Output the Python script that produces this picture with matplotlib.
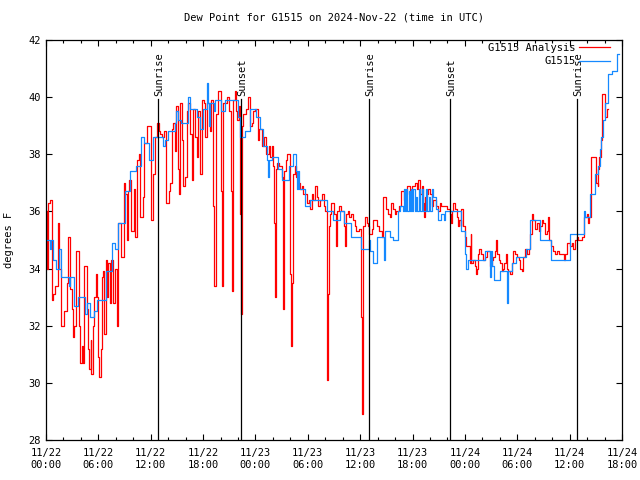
import numpy as np
import matplotlib
matplotlib.use("Agg")
import matplotlib.pyplot as plt
from matplotlib.ticker import MultipleLocator

plt.rcParams['font.family'] = ['DejaVu Sans Mono']

# hours since 11/22 00:00 UTC, dew point in F
red_t = [0.00, 0.10, 0.25, 0.45, 0.65, 0.80, 1.00, 1.35, 1.50, 1.70, 2.05, 2.35, 2.55, 2.75, 2.95,
         3.10, 3.25, 3.45, 3.75, 3.95, 4.10, 4.25, 4.40, 4.65, 4.85, 4.97, 5.10, 5.20, 5.35, 5.50,
         5.70, 5.85, 5.95, 6.10, 6.25, 6.40, 6.55, 6.70, 6.90, 7.00, 7.15, 7.30, 7.50, 7.70, 7.85,
         8.15, 8.30, 8.65, 8.90, 9.10, 9.25, 9.40, 9.55, 9.70, 10.05, 10.20, 10.40, 10.65, 10.80, 11.15,
         11.25, 11.55, 12.00, 12.30, 12.50, 12.70, 12.90, 13.05, 13.30, 13.50, 13.80, 14.10, 14.25, 14.40, 14.60,
         14.80, 14.95, 15.10, 15.28, 15.40, 15.55, 15.66, 15.90, 16.10, 16.30, 16.50, 16.70, 16.90, 17.10, 17.30,
         17.45, 17.65, 17.85, 18.10, 18.25, 18.40, 18.75, 18.95, 19.15, 19.28, 19.45, 19.75, 20.10, 20.22, 20.32,
         20.70, 21.00, 21.18, 21.28, 21.38, 21.65, 21.80, 21.90, 22.10, 22.22, 22.30, 22.42, 22.55, 22.95, 23.20,
         23.40, 23.55, 23.70, 23.90, 24.30, 24.45, 24.75, 25.00, 25.25, 25.50, 25.70, 25.85, 26.05, 26.13, 26.20,
         26.30, 26.50, 26.65, 27.00, 27.12, 27.20, 27.30, 27.50, 27.65, 27.97, 28.04, 28.20, 28.35, 28.50, 28.70,
         28.90, 29.10, 29.30, 29.50, 29.90, 30.10, 30.25, 30.45, 30.65, 30.80, 31.00, 31.20, 31.40, 31.60, 31.80,
         32.00, 32.15, 32.24, 32.30, 32.40, 32.55, 32.65, 32.90, 33.05, 33.20, 33.35, 33.60, 33.80, 34.15, 34.27,
         34.40, 34.55, 34.75, 34.95, 35.15, 35.35, 35.55, 35.90, 36.05, 36.15, 36.22, 36.37, 36.55, 36.75, 36.95,
         37.05, 37.40, 37.50, 37.90, 38.10, 38.45, 38.60, 38.66, 39.00, 39.15, 39.40, 39.55, 39.75, 39.95, 40.10,
         40.50, 40.70, 41.00, 41.25, 41.40, 41.70, 41.95, 42.30, 42.50, 42.66, 42.85, 43.05, 43.25, 43.35, 43.45,
         43.60, 43.80, 44.00, 44.20, 44.40, 44.70, 44.95, 45.10, 45.30, 45.90, 46.30, 46.40, 46.55, 46.65, 46.85,
         47.05, 47.25, 47.35, 47.50, 47.60, 47.80, 48.00, 48.10, 48.60, 48.66, 48.75, 48.97, 49.15, 49.30, 49.40,
         49.50, 49.60, 49.90, 50.10, 50.30, 50.50, 50.85, 51.05, 51.25, 51.45, 51.56, 51.70, 51.90, 52.00, 52.20,
         52.40, 52.50, 52.67, 52.80, 52.95, 53.15, 53.35, 53.55, 53.75, 53.95, 54.15, 54.35, 54.50, 54.70, 54.90,
         55.10, 55.30, 55.50, 55.65, 55.85, 56.05, 56.25, 56.45, 56.60, 56.80, 57.00, 57.15, 57.35, 57.55, 57.65,
         57.90, 58.10, 58.30, 58.60, 58.80, 59.10, 59.30, 59.45, 59.65, 60.05, 60.25, 60.40, 60.60, 60.80, 61.00,
         61.40, 61.60, 61.95, 62.10, 62.25, 62.40, 62.50, 63.05, 63.20, 63.30, 63.40, 63.55, 63.67, 64.05, 64.30,
         64.40]
red_v = [36.0, 34.0, 36.3, 36.4, 32.9, 33.1, 33.4, 35.6, 34.0, 32.0, 32.5, 33.5, 35.1, 33.3, 32.6,
         31.6, 32.0, 34.6, 32.0, 30.7, 31.3, 30.7, 34.1, 32.6, 31.2, 30.5, 31.5, 30.3, 32.0, 33.0,
         33.8, 33.0, 30.9, 30.2, 31.2, 33.7, 33.9, 31.7, 34.3, 33.0, 34.2, 32.8, 34.3, 32.8, 34.0,
         32.0, 35.6, 34.4, 37.0, 36.6, 35.0, 36.7, 37.1, 35.3, 36.8, 35.1, 37.8, 38.0, 35.8, 36.5,
         38.4, 39.0, 35.7, 37.3, 38.6, 39.1, 38.8, 38.7, 38.6, 38.8, 36.3, 36.7, 37.0, 38.9, 39.1,
         38.1, 39.7, 37.5, 36.6, 39.8, 38.5, 36.9, 37.2, 39.5, 39.8, 38.7, 37.1, 39.6, 38.6, 37.9,
         39.5, 37.3, 39.9, 39.8, 38.6, 39.8, 38.8, 39.9, 36.2, 33.4, 39.4, 40.2, 36.7, 33.4, 39.8,
         40.0, 39.5, 36.7, 33.2, 39.9, 40.2, 39.5, 39.2, 39.7, 35.9, 32.4, 39.0, 39.4, 39.6, 40.0,
         39.0, 39.1, 39.5, 39.6, 38.5, 38.9, 38.3, 38.6, 38.0, 38.3, 37.9, 38.3, 37.6, 35.6, 33.0,
         37.5, 37.7, 37.6, 37.2, 35.0, 32.6, 37.4, 37.8, 38.0, 33.8, 31.3, 33.5, 37.3, 37.6, 37.2,
         37.0, 36.8, 36.9, 36.6, 36.3, 36.4, 36.1, 36.6, 36.4, 36.9, 36.5, 36.2, 36.4, 36.6, 36.2,
         36.0, 33.5, 30.1, 33.1, 35.5, 35.9, 36.3, 36.3, 35.9, 34.8, 36.0, 36.2, 36.0, 35.5, 34.8,
         35.9, 36.0, 35.8, 35.9, 35.7, 35.5, 35.3, 35.4, 35.1, 32.3, 28.9, 35.5, 35.8, 35.6, 35.5,
         35.2, 35.4, 35.7, 35.5, 35.3, 35.1, 35.9, 36.5, 36.1, 35.9, 35.8, 36.3, 36.1, 35.9, 36.0,
         36.2, 36.7, 36.4, 36.6, 36.9, 36.6, 36.9, 37.0, 36.8, 37.1, 36.6, 36.9, 36.3, 35.8, 36.5,
         36.6, 36.8, 36.6, 36.2, 36.4, 36.2, 36.0, 36.3, 36.2, 36.1, 35.9, 35.6, 36.0, 36.3, 36.1,
         35.8, 35.5, 35.7, 35.5, 36.1, 35.5, 35.1, 34.8, 34.2, 35.2, 34.2, 34.3, 34.1, 33.8, 34.0,
         34.5, 34.7, 34.5, 34.3, 34.4, 34.6, 34.1, 34.3, 34.4, 34.6, 35.0, 34.5, 34.3, 34.2, 33.9,
         34.0, 34.2, 34.5, 34.0, 33.9, 33.8, 34.2, 34.6, 34.5, 34.4, 34.3, 34.0, 33.9, 34.4, 34.7,
         34.5, 34.7, 35.2, 35.9, 35.7, 35.4, 35.6, 35.3, 35.5, 35.7, 35.6, 35.2, 35.3, 35.8, 35.0,
         34.8, 34.6, 34.5, 34.6, 34.5, 34.5, 34.3, 34.5, 34.9, 34.8, 34.9, 34.7, 35.0, 35.1, 35.0,
         35.1, 35.8, 35.9, 35.6, 35.8, 36.1, 37.9, 37.0, 36.9, 37.5, 37.9, 38.5, 40.1, 39.3, 39.6,
         39.6]

blue_t = [0.00, 0.45, 0.55, 0.80, 1.20, 1.50, 1.70, 2.60, 2.80, 3.20, 3.65, 4.50, 4.65, 5.05, 5.45,
          5.80, 6.90, 7.55, 7.90, 8.30, 9.05, 9.60, 10.30, 10.90, 11.20, 11.80, 12.30, 13.40, 13.65, 14.00,
          14.80, 14.95, 15.10, 15.50, 16.30, 16.50, 17.30, 17.60, 18.00, 18.40, 18.55, 18.70, 18.80, 19.20, 19.40,
          20.00, 20.50, 22.05, 22.20, 22.80, 23.40, 24.10, 24.50, 24.90, 25.30, 25.45, 25.55, 25.90, 26.60, 27.00,
          27.80, 28.30, 28.70, 28.80, 28.90, 29.00, 29.70, 30.30, 32.20, 32.90, 33.70, 34.10, 35.00, 36.10, 37.00,
          37.15, 37.50, 37.90, 38.70, 38.90, 39.40, 39.80, 40.30, 40.60, 40.90, 41.00, 41.15, 41.30, 41.40, 41.55,
          41.70, 41.85, 41.95, 42.10, 42.25, 42.40, 42.55, 42.70, 42.80, 43.10, 43.20, 43.50, 43.60, 43.90, 44.00,
          44.25, 44.40, 44.65, 44.95, 45.30, 45.60, 45.75, 47.60, 48.00, 48.15, 48.35, 50.30, 50.85, 50.95, 51.10,
          51.35, 52.00, 52.85, 52.95, 53.35, 53.90, 55.00, 55.50, 56.60, 57.90, 60.00, 61.60, 61.80, 62.30, 62.90,
          63.30, 63.50, 63.65, 63.85, 64.10, 64.40, 64.80, 65.40, 65.65]
blue_v = [35.0, 34.7, 35.0, 34.3, 34.0, 34.7, 33.7, 33.4, 33.7, 32.7, 33.0, 32.4, 32.8, 32.3, 32.5,
          32.9, 33.9, 34.9, 34.7, 35.6, 36.7, 37.4, 37.6, 38.6, 38.4, 37.8, 38.6, 38.3, 38.5, 38.8,
          39.1, 39.5, 39.2, 39.1, 40.0, 39.6, 39.3, 38.9, 39.6, 40.5, 39.8, 39.0, 39.8, 39.5, 39.9,
          39.5, 39.9, 39.3, 38.6, 38.8, 39.6, 39.3, 38.9, 38.3, 37.8, 37.2, 37.8, 37.9, 37.5, 37.1,
          37.6, 38.0, 37.4, 36.8, 37.4, 36.8, 36.2, 36.4, 36.0, 35.7, 36.0, 35.6, 35.1, 34.7, 35.0,
          34.6, 34.2, 35.1, 34.3, 35.3, 35.1, 35.0, 36.0, 36.2, 36.0, 36.8, 36.0, 36.8, 36.0, 36.7,
          36.0, 36.8, 36.0, 36.8, 36.0, 36.5, 36.0, 36.8, 36.0, 36.8, 36.0, 36.8, 36.0, 36.5, 36.0,
          36.8, 36.5, 36.1, 35.7, 35.9, 35.7, 36.0, 35.3, 34.5, 34.0, 34.3, 34.6, 33.7, 34.6, 34.1,
          33.6, 33.9, 32.8, 33.9, 34.2, 34.4, 34.7, 35.7, 35.0, 34.3, 35.2, 36.0, 35.8, 36.6, 37.3,
          37.6, 38.2, 38.6, 39.2, 39.8, 40.8, 40.9, 41.5, 41.5]

sun_names = ["Sunrise", "Sunset", "Sunrise", "Sunset", "Sunrise"]
sun_times = [12.85, 22.38, 36.97, 46.33, 60.88]

tick_labels = ["11/22\n00:00", "11/22\n06:00", "11/22\n12:00", "11/22\n18:00",
               "11/23\n00:00", "11/23\n06:00", "11/23\n12:00", "11/23\n18:00",
               "11/24\n00:00", "11/24\n06:00", "11/24\n12:00", "11/24\n18:00"]

fs = 7.5
fig = plt.figure(figsize=(6.4, 4.8), dpi=100)
ax = fig.add_axes([46/640, 40/480, 576/640, 400/480])

ax.plot(red_t, red_v, drawstyle='steps-post', color='#ff0000', lw=0.9, label='G1515 Analysis')
ax.plot(blue_t, blue_v, drawstyle='steps-post', color='#1589ff', lw=0.9, label='G1515')

for name, t in zip(sun_names, sun_times):
    ax.plot([t, t], [28, 39.93], color='black', lw=0.9)
    ax.text(t + 0.15, 40.05, name, rotation=90, ha='center', va='bottom', fontsize=fs)

ax.set_xlim(0, 66)
ax.set_ylim(28, 42)
ax.set_xticks(np.arange(0, 67, 6))
ax.set_xticklabels(tick_labels)
ax.xaxis.set_minor_locator(MultipleLocator(2))
ax.set_yticks(np.arange(28, 43, 2))
ax.tick_params(which='both', direction='in', top=True, right=True, labelsize=fs, width=0.8)
ax.tick_params(which='major', length=4.5)
ax.tick_params(which='minor', length=2.5)
ax.tick_params(axis='x', pad=6)
for sp in ax.spines.values():
    sp.set_linewidth(0.9)

ax.set_title("Dew Point for G1515 on 2024-Nov-22 (time in UTC)", fontsize=fs, pad=14)
ax.set_ylabel("degrees F", fontsize=fs)
ax.yaxis.set_label_coords(-0.055, 0.5)

ax.legend(loc='upper right', bbox_to_anchor=(0.988, 1.006), frameon=False, markerfirst=False,
          fontsize=fs, handlelength=3.0, handletextpad=0.3, labelspacing=0.35,
          borderaxespad=0.2, borderpad=0.3)

fig.savefig("out.png", dpi=100)
